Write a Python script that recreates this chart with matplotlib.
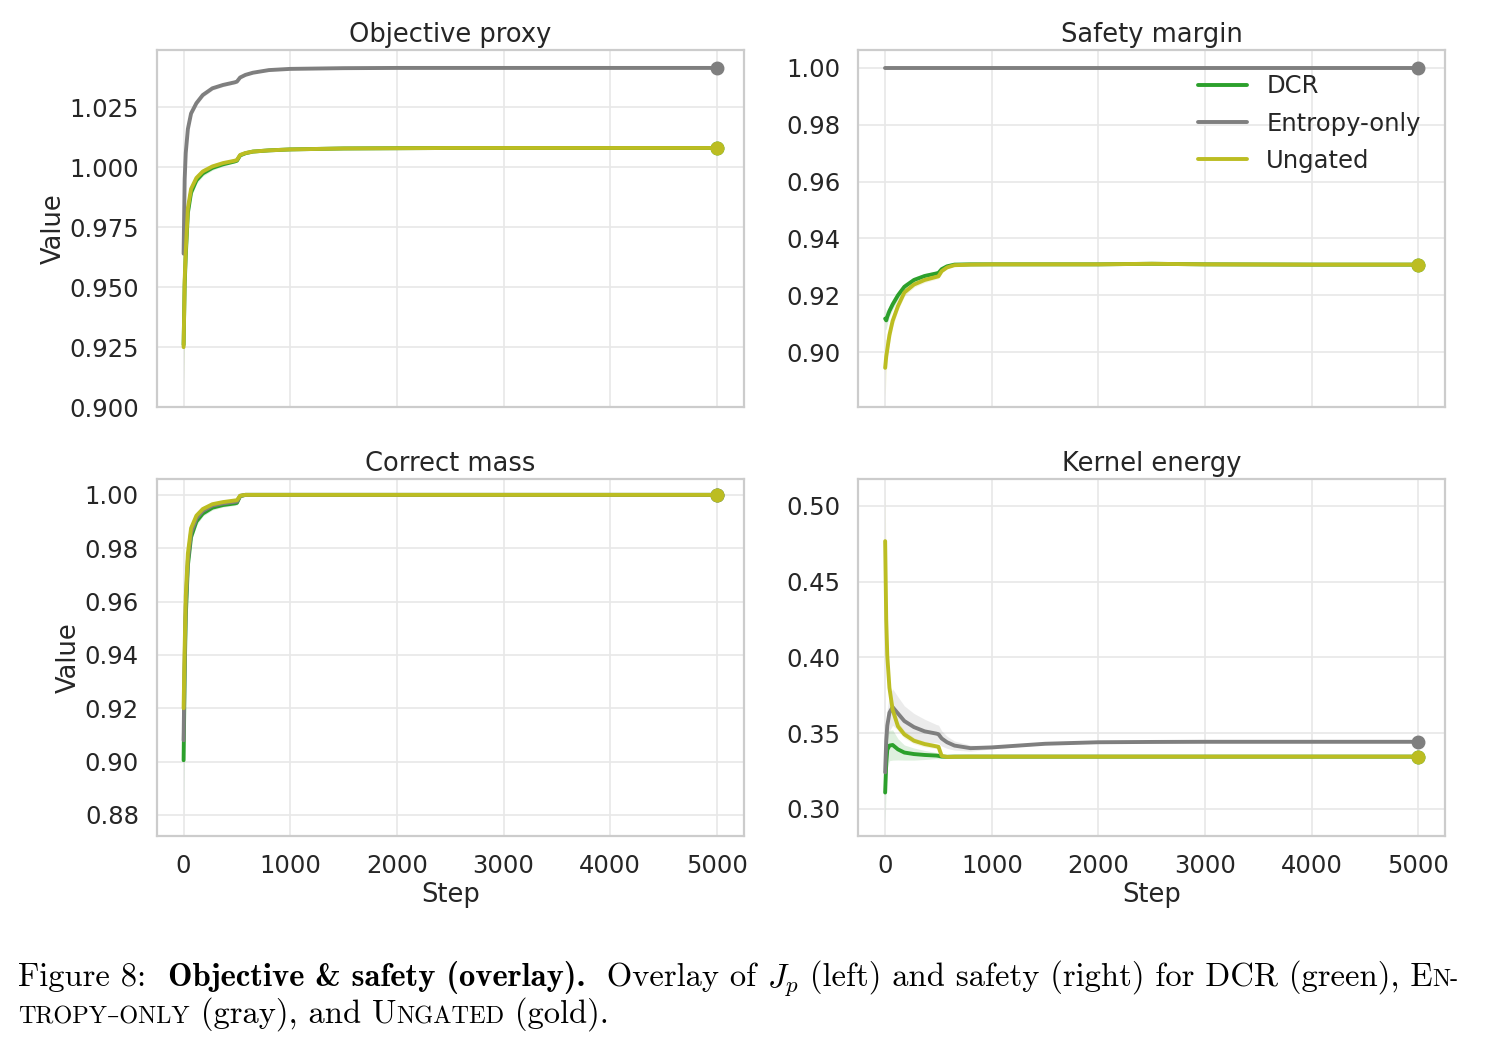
import numpy as np
import matplotlib
matplotlib.use("Agg")
import matplotlib.pyplot as plt
import seaborn as sns

# ---- data ----
steps = [0, 10, 20, 40, 70, 120, 180, 270, 370, 480, 500, 530, 580, 650, 800,
         1000, 1500, 2000, 2500, 3000, 4000, 5000]

methods = ["DCR", "Entropy-only", "Ungated"]
colors = {"DCR": "#2ca02c", "Entropy-only": "#7f7f7f", "Ungated": "#bcbd22"}

# Objective proxy
obj_dcr = [0.926, 0.951, 0.963, 0.981, 0.9895, 0.9946, 0.9975, 0.9998, 1.0013, 1.0025, 1.0028,
           1.0050, 1.0059, 1.0066, 1.0071, 1.0075, 1.0079, 1.0080, 1.0081, 1.0081, 1.0081, 1.0081]
obj_ent = [0.964, 0.995, 1.006, 1.016, 1.0225, 1.0268, 1.0302, 1.0330, 1.0344, 1.0355, 1.0358,
           1.0375, 1.0386, 1.0395, 1.0406, 1.0411, 1.0414, 1.0415, 1.0415, 1.0415, 1.0415, 1.0415]
obj_ung = [0.925, 0.953, 0.965, 0.983, 0.991, 0.9956, 0.9983, 1.0004, 1.0018, 1.0028, 1.0031,
           1.0052, 1.0060, 1.0066, 1.0071, 1.0075, 1.0079, 1.0080, 1.0081, 1.0081, 1.0081, 1.0081]
obj_dcr_sd = [0.016, 0.008, 0.005, 0.003, 0.002, 0.0015, 0.0012, 0.001, 0.0008, 0.0006, 0.0005,
              0.0004, 0.0003, 0.0002, 0.0002, 0.0001, 0.0001, 0, 0, 0, 0, 0]
obj_ent_sd = [0.003, 0.002, 0.0018, 0.0015, 0.0012, 0.001, 0.0009, 0.0008, 0.0007, 0.0006, 0.0006,
              0.0005, 0.0004, 0.0003, 0.0002, 0.0001, 0.0001, 0, 0, 0, 0, 0]
obj_ung_sd = [0.018, 0.008, 0.005, 0.003, 0.002, 0.0015, 0.0012, 0.001, 0.0008, 0.0006, 0.0005,
              0.0004, 0.0003, 0.0002, 0.0002, 0.0001, 0.0001, 0, 0, 0, 0, 0]

# Safety margin
saf_dcr = [0.9118, 0.9112, 0.9125, 0.9145, 0.9168, 0.9200, 0.9230, 0.9254, 0.9268, 0.9277, 0.9279,
           0.9292, 0.9302, 0.9308, 0.9309, 0.9309, 0.9309, 0.9309, 0.9311, 0.9309, 0.9308, 0.9308]
saf_ent = [1.0, 1.0, 1.0, 1.0, 1.0, 1.0, 1.0, 1.0, 1.0, 1.0, 1.0,
           1.0, 1.0, 1.0, 1.0, 1.0, 1.0, 1.0, 1.0, 1.0, 1.0, 1.0]
saf_ung = [0.8945, 0.8985, 0.9010, 0.9060, 0.9110, 0.9162, 0.9210, 0.9238, 0.9254, 0.9265, 0.9267,
           0.9285, 0.9298, 0.9306, 0.9308, 0.9309, 0.9309, 0.9309, 0.9311, 0.9309, 0.9308, 0.9308]
saf_dcr_sd = [0.004, 0.003, 0.0025, 0.002, 0.0018, 0.0015, 0.0013, 0.001, 0.0009, 0.0008, 0.0008,
              0.0005, 0.0003, 0.0002, 0.0002, 0.0001, 0.0001, 0, 0, 0, 0, 0]
saf_ent_sd = [0, 0, 0, 0, 0, 0, 0, 0, 0, 0, 0, 0, 0, 0, 0, 0, 0, 0, 0, 0, 0, 0]
saf_ung_sd = [0.010, 0.006, 0.004, 0.003, 0.002, 0.0015, 0.0013, 0.001, 0.0009, 0.0008, 0.0008,
              0.0005, 0.0003, 0.0002, 0.0002, 0.0001, 0.0001, 0, 0, 0, 0, 0]

# Correct mass
cm_dcr = [0.9005, 0.933, 0.954, 0.9735, 0.9842, 0.9900, 0.9930, 0.9952, 0.9962, 0.9968, 0.9970,
          0.9995, 1.0, 1.0, 1.0, 1.0, 1.0, 1.0, 1.0, 1.0, 1.0, 1.0]
cm_ent = [0.908, 0.938, 0.958, 0.9755, 0.9858, 0.9912, 0.9940, 0.9960, 0.9968, 0.9974, 0.9975,
          0.9996, 1.0, 1.0, 1.0, 1.0, 1.0, 1.0, 1.0, 1.0, 1.0, 1.0]
cm_ung = [0.920, 0.943, 0.962, 0.978, 0.9875, 0.9922, 0.9947, 0.9965, 0.9973, 0.9979, 0.9980,
          0.9997, 1.0, 1.0, 1.0, 1.0, 1.0, 1.0, 1.0, 1.0, 1.0, 1.0]
cm_dcr_sd = [0.022, 0.008, 0.005, 0.003, 0.002, 0.0015, 0.001, 0.0009, 0.0008, 0.0008, 0.0008,
             0.0003, 0, 0, 0, 0, 0, 0, 0, 0, 0, 0]
cm_ent_sd = [0.012, 0.006, 0.004, 0.0025, 0.0018, 0.0013, 0.001, 0.0008, 0.0007, 0.0006, 0.0006,
             0.0002, 0, 0, 0, 0, 0, 0, 0, 0, 0, 0]
cm_ung_sd = [0.010, 0.006, 0.004, 0.0025, 0.0018, 0.0013, 0.001, 0.0008, 0.0007, 0.0006, 0.0006,
             0.0002, 0, 0, 0, 0, 0, 0, 0, 0, 0, 0]

# Kernel energy
ke_dcr = [0.3108, 0.330, 0.339, 0.3418, 0.3422, 0.3393, 0.3372, 0.3362, 0.3356, 0.3352, 0.3350,
          0.3345, 0.3344, 0.3345, 0.3345, 0.3345, 0.3345, 0.3345, 0.3345, 0.3345, 0.3345, 0.3345]
ke_ent = [0.3241, 0.345, 0.355, 0.3635, 0.3672, 0.3630, 0.3580, 0.3540, 0.3512, 0.3497, 0.3493,
          0.3465, 0.3440, 0.3418, 0.3401, 0.3406, 0.3430, 0.3440, 0.3442, 0.3443, 0.3443, 0.3443]
ke_ung = [0.4768, 0.425, 0.401, 0.380, 0.3655, 0.3545, 0.3492, 0.3450, 0.3428, 0.3413, 0.3410,
          0.3350, 0.3343, 0.3344, 0.3345, 0.3345, 0.3345, 0.3345, 0.3345, 0.3345, 0.3345, 0.3345]
ke_dcr_sd = [0.02, 0.015, 0.012, 0.010, 0.010, 0.007, 0.005, 0.004, 0.003, 0.002, 0.002,
             0.0005, 0.0003, 0.0002, 0.0001, 0, 0, 0, 0, 0, 0, 0]
ke_ent_sd = [0.008, 0.010, 0.011, 0.012, 0.012, 0.011, 0.010, 0.009, 0.008, 0.006, 0.006,
             0.005, 0.004, 0.003, 0.002, 0.001, 0.0005, 0.0005, 0.0005, 0.0005, 0.0005, 0.0005]
ke_ung_sd = [0.035, 0.02, 0.008, 0.005, 0.004, 0.003, 0.0025, 0.002, 0.0018, 0.0015, 0.0015,
             0.0005, 0.0003, 0.0002, 0.0001, 0, 0, 0, 0, 0, 0, 0]

titles = ["Objective proxy", "Safety margin", "Correct mass", "Kernel energy"]
panel_means = [[obj_dcr, obj_ent, obj_ung], [saf_dcr, saf_ent, saf_ung],
               [cm_dcr, cm_ent, cm_ung], [ke_dcr, ke_ent, ke_ung]]
panel_sds = [[obj_dcr_sd, obj_ent_sd, obj_ung_sd], [saf_dcr_sd, saf_ent_sd, saf_ung_sd],
             [cm_dcr_sd, cm_ent_sd, cm_ung_sd], [ke_dcr_sd, ke_ent_sd, ke_ung_sd]]
ylims = [(0.9, 1.049), (0.8807, 1.0063), (0.8721, 1.006), (0.2821, 0.5179)]
yticks = [[0.900, 0.925, 0.950, 0.975, 1.000, 1.025],
          [0.90, 0.92, 0.94, 0.96, 0.98, 1.00],
          [0.88, 0.90, 0.92, 0.94, 0.96, 0.98, 1.00],
          [0.30, 0.35, 0.40, 0.45, 0.50]]
xticks = [0, 1000, 2000, 3000, 4000, 5000]

# ---- style ----
sns.set_theme(style="whitegrid")
plt.rcParams["font.family"] = ["DejaVu Sans"]
plt.rcParams["mathtext.fontset"] = "cm"
plt.rcParams["axes.edgecolor"] = "#cccccc"
plt.rcParams["axes.linewidth"] = 1.6

FS = 17.5
TXT = "#262626"
fig, axes = plt.subplots(2, 2, figsize=(14.89, 10.45), dpi=100, sharex=True)
fig.subplots_adjust(left=0.1054, right=0.9705, top=0.9522, bottom=0.2,
                    wspace=0.196, hspace=0.201)

x = np.array(steps)
for k, ax in enumerate(axes.flat):
    for name, m, sd in zip(methods, panel_means[k], panel_sds[k]):
        m = np.array(m)
        sd = np.array(sd)
        c = colors[name]
        ax.fill_between(x, m - sd, m + sd, color=c, alpha=0.15, linewidth=0)
        ax.plot(x, m, color=c, lw=2.8, label=name)
        ax.plot(x[-1], m[-1], "o", color=c, ms=9)
    ax.set_title(titles[k], fontsize=18.5, color=TXT, pad=6)
    ax.set_ylim(*ylims[k])
    ax.set_yticks(yticks[k])
    ax.set_xticks(xticks)
    ax.set_xlim(-250, 5250)
    ax.tick_params(labelsize=FS, colors=TXT, pad=7)
    ax.grid(True, color="#e8e8e8", lw=1.2)

axes[0, 0].set_ylabel("Value", fontsize=18.5, color=TXT, labelpad=2)
axes[1, 0].set_ylabel("Value", fontsize=18.5, color=TXT, labelpad=2)
axes[1, 0].set_xlabel("Step", fontsize=18.5, color=TXT, labelpad=3)
axes[1, 1].set_xlabel("Step", fontsize=18.5, color=TXT, labelpad=3)
axes[0, 1].legend(loc="upper right", frameon=False, fontsize=FS,
                  handlelength=2.0, borderaxespad=0.6, labelspacing=0.55)

# ---- caption (LaTeX-like, with small caps) ----
reg = ["cmr10", "DejaVu Serif"]
bold = ["cmb10", "DejaVu Serif"]
CS = 23.5
SC = 17.5
line1 = [("Figure 8:  ", reg, CS), ("Objective & safety (overlay).", bold, CS),
         ("  Overlay of ", reg, CS), ("$J_p$", reg, CS),
         (" (left) and safety (right) for DCR (green), E", reg, CS), ("N-", reg, SC)]
line2 = [("TROPY\u2013ONLY", reg, SC), (" (gray), and U", reg, CS), ("NGATED", reg, SC),
         (" (gold).", reg, CS)]

fig.canvas.draw()
rend = fig.canvas.get_renderer()
for parts, yy in [(line1, 1 - 986 / 1045), (line2, 1 - 1023 / 1045)]:
    xx = 18 / 1489
    for s, fam, size in parts:
        t = fig.text(xx, yy, s, family=fam, fontsize=size, va="baseline", ha="left", color="black")
        bb = t.get_window_extent(rend)
        xx += bb.width / fig.bbox.width

fig.savefig("out.png", dpi=100)
